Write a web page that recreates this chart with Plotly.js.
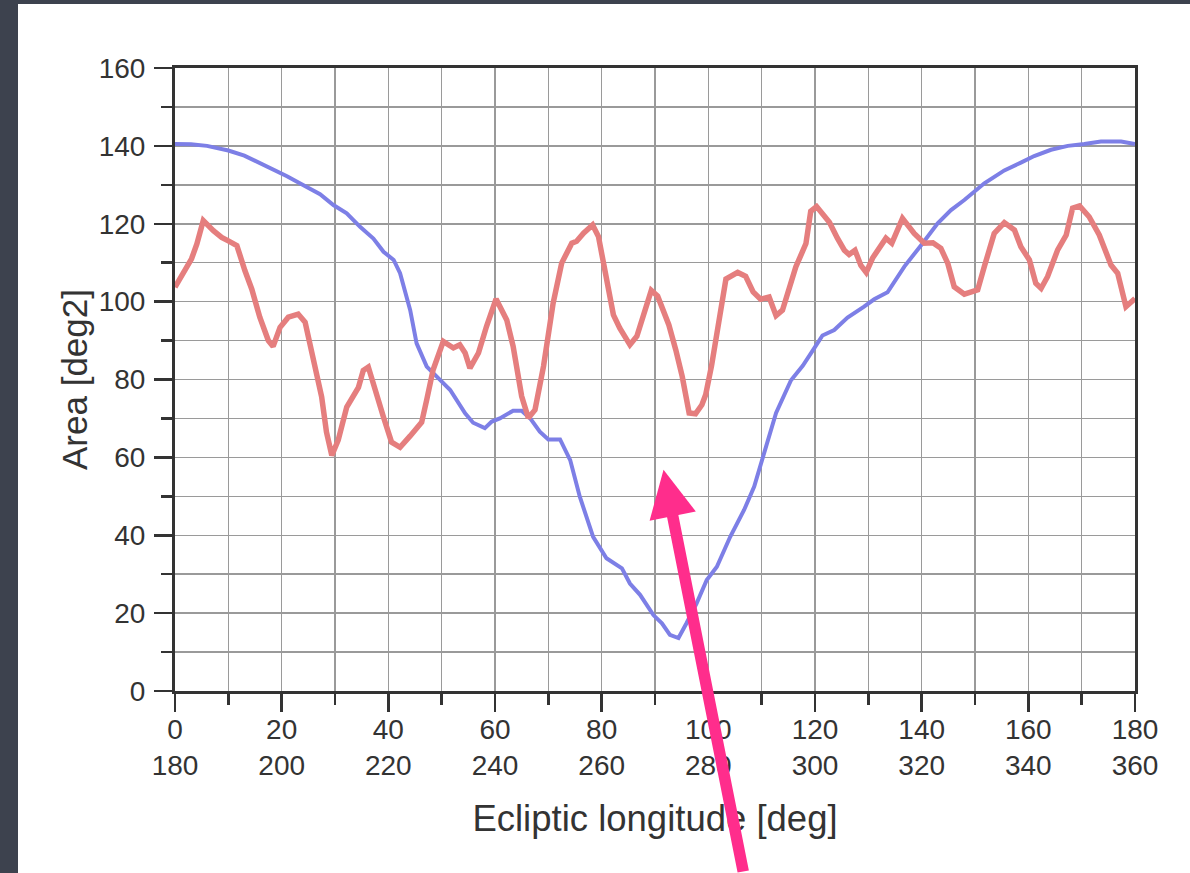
<!DOCTYPE html>
<html>
<head>
<meta charset="utf-8">
<script src="https://cdn.plot.ly/plotly-3.0.1.min.js"></script>
<style>
  html, body { margin: 0; padding: 0; width: 1190px; height: 873px; overflow: hidden;
    background: #3d424e; }
  #chart { position: absolute; left: 18px; top: 4px; width: 1172px; height: 869px; }
</style>
</head>
<body>
<div id="chart"></div>
<script>
// Sky area vs ecliptic longitude (two x scales: offset 0-180 and absolute 180-360)
const xTickVals = [0, 20, 40, 60, 80, 100, 120, 140, 160, 180];
const xTickText = ['0<br>180', '20<br>200', '40<br>220', '60<br>240', '80<br>260',
                   '100<br>280', '120<br>300', '140<br>320', '160<br>340', '180<br>360'];

// Blue series
const blueLon = [0, 3, 6, 10, 13, 15, 18, 21, 23.4, 27.2, 29.7, 32.2, 34.7, 37.2, 39.1, 41,
  42.2, 44.1, 45.3, 47.2, 49.7, 51.6, 54.4, 55.9, 58.1, 59.4, 60.9, 63.4, 65, 66.6, 68.4, 70,
  72.2, 74.1, 75.9, 78.4, 80.9, 83.8, 85.3, 87.2, 89.7, 91.3, 92.8, 94.4, 95.9, 97.8, 99.7,
  101.6, 104.1, 106.7, 108.6, 110.8, 112.7, 115.5, 117.7, 119.9, 121.4, 123.6, 126.1, 129.2,
  131.1, 133.6, 136.75, 139.9, 143, 145.5, 148, 151.75, 155.5, 158.6, 161.1, 164.25, 167.4,
  170.5, 173.6, 177.4, 180];
const blueArea = [140.5, 140.4, 140, 138.8, 137.5, 136.2, 134.4, 132.2, 130.4, 127.6, 124.8,
  122.7, 119.2, 116.2, 112.8, 110.7, 107.3, 97.8, 89.3, 83.3, 79.9, 77.3, 71.3, 68.9, 67.5,
  69.2, 70.0, 72, 72, 70, 66.6, 64.6, 64.6, 59.3, 49.9, 39.6, 34.1, 31.5, 27.6, 24.7, 19.5,
  17.4, 14.4, 13.6, 17.4, 22.5, 28.5, 31.9, 39.6, 46.5, 52.5, 63.1, 71.4, 79.8, 83.5, 88.1,
  91.3, 92.7, 95.9, 98.7, 100.6, 102.4, 109, 114.5, 120.1, 123.5, 126.1, 130.4, 133.7, 135.7,
  137.4, 139, 140, 140.5, 141.1, 141.1, 140.5];

// Red series
const redLon = [0, 1.9, 3.1, 4.1, 5.3, 7.2, 8.75, 10, 11.6, 13.1, 14.4, 15.9, 17.5, 18.4,
  19.7, 21.25, 23.1, 24.4, 25.9, 27.5, 28.4, 29.4, 30.6, 32.2, 34.4, 35.3, 36.25, 37.5, 39.1,
  40.6, 42.2, 44.1, 45.6, 46.25, 47.2, 48.4, 50.3, 52.2, 53.4, 54.4, 55.3, 56.9, 58.4, 60.2,
  62.2, 63.4, 65, 66.25, 67.5, 69.1, 70.9, 72.5, 74.4, 75.3, 76.6, 78.3, 79.4, 80.9, 82.2,
  83.4, 85.3, 86.6, 88.1, 89.3, 90.5, 91.4, 92.6, 93.9, 95.1, 96.4, 97.6, 98.8, 99.5, 100.6,
  102, 103.3, 105.5, 107, 108.4, 109.8, 111.4, 112.7, 113.9, 115.2, 116.4, 118.3, 119.2,
  120.3, 121.4, 122.7, 124.2, 125.5, 126.4, 127.5, 128.6, 129.6, 130.8, 132.1, 133.3, 134.4,
  136.4, 138.6, 140.5, 142.1, 143.6, 144.9, 146.1, 148, 150.5, 151.75, 153.6, 155.5, 157.4,
  158.6, 160.2, 161.4, 162.4, 163.6, 165.5, 167.1, 168.3, 169.6, 171.4, 173.3, 175.5,
  176.75, 178.3, 180];
const redArea = [103.7, 108, 111, 114.8, 120.8, 118.2, 116.5, 115.6, 114.4, 108, 103.2, 96,
  90, 88.5, 93.4, 96, 96.8, 94.7, 85.7, 75.5, 66.5, 60.5, 64.4, 72.9, 78, 82.3, 83.2, 77.2,
  70.3, 63.9, 62.6, 65.5, 67.8, 69, 74.8, 82.5, 89.8, 88.1, 88.9, 86.8, 82.9, 86.8, 93.6,
  100.7, 95.3, 88.5, 75.7, 70.1, 72.2, 83.4, 99.6, 109.9, 115, 115.5, 117.6, 119.7, 116.7,
  106.5, 96.6, 93.2, 88.9, 91.1, 97.9, 102.9, 101.4, 97.9, 94, 87.6, 80.8, 71.4, 71.2, 73.5,
  76.1, 83.5, 95.8, 105.8, 107.5, 106.5, 102.5, 100.6, 101.2, 96.4, 97.8, 103.8, 108.9,
  114.9, 123.2, 124.4, 122.3, 120.4, 116.3, 113.2, 112.1, 113.2, 109.3, 107.5, 111.2, 114,
  116.3, 115, 121.4, 117.5, 115, 115.1, 113.7, 109.8, 103.8, 101.9, 103, 109, 117.5, 120.3,
  118.4, 114.1, 110.7, 104.7, 103.4, 106.4, 113.3, 117.1, 124, 124.6, 121.8, 117.1, 109.4,
  107.3, 98.7, 100.8];

// Pointer arrow: tip in data coordinates, tail offset in pixels
const arrowTip = { lon: 91.6, area: 56.8 };
const arrowTail = { dx: 80, dy: 412 };

const axisColor = '#333333';
const gridColor = '#9a9a9a';
const font = 'Liberation Sans, Arial, Helvetica, sans-serif';

function axisStyle() {
  return {
    showline: true, linecolor: axisColor, linewidth: 3, mirror: true,
    ticks: 'outside', ticklen: 18, tickwidth: 2.5, tickcolor: axisColor,
    showgrid: true, gridcolor: gridColor, gridwidth: 1.5,
    zeroline: false,
    tickfont: { family: font, size: 28, color: axisColor },
    minor: { dtick: 10, tick0: 0, ticks: 'outside', ticklen: 11, tickwidth: 2.5,
             tickcolor: axisColor, showgrid: true, gridcolor: gridColor, gridwidth: 1.5 }
  };
}

const traces = [
  { x: blueLon, y: blueArea, type: 'scatter', mode: 'lines',
    line: { color: '#7d7fe6', width: 4 }, hoverinfo: 'skip' },
  { x: redLon, y: redArea, type: 'scatter', mode: 'lines',
    line: { color: '#e57e7e', width: 5.5 }, hoverinfo: 'skip' }
];

const layout = {
  width: 1172, height: 869,
  margin: { l: 157, r: 55, t: 64, b: 182, pad: 0 },
  paper_bgcolor: '#ffffff', plot_bgcolor: '#ffffff',
  showlegend: false,
  xaxis: Object.assign(axisStyle(), {
    range: [0, 180], tickmode: 'array', tickvals: xTickVals, ticktext: xTickText,
    ticklabelstandoff: -7,
    title: { text: 'Ecliptic longitude [deg]', font: { family: font, size: 36.5, color: axisColor }, standoff: 26 }
  }),
  yaxis: Object.assign(axisStyle(), {
    range: [0, 160], tick0: 0, dtick: 20, ticklabelstandoff: 3,
    title: { text: 'Area [deg2]', font: { family: font, size: 35, color: axisColor }, standoff: 1 }
  }),
  annotations: [{
    x: arrowTip.lon, y: arrowTip.area, xref: 'x', yref: 'y',
    text: '', showarrow: true, arrowhead: 2, arrowsize: 0.82, arrowwidth: 11.5,
    arrowcolor: '#ff2d8c', ax: arrowTail.dx, ay: arrowTail.dy
  }]
};

Plotly.newPlot('chart', traces, layout, { displayModeBar: false, staticPlot: true });
</script>
</body>
</html>
